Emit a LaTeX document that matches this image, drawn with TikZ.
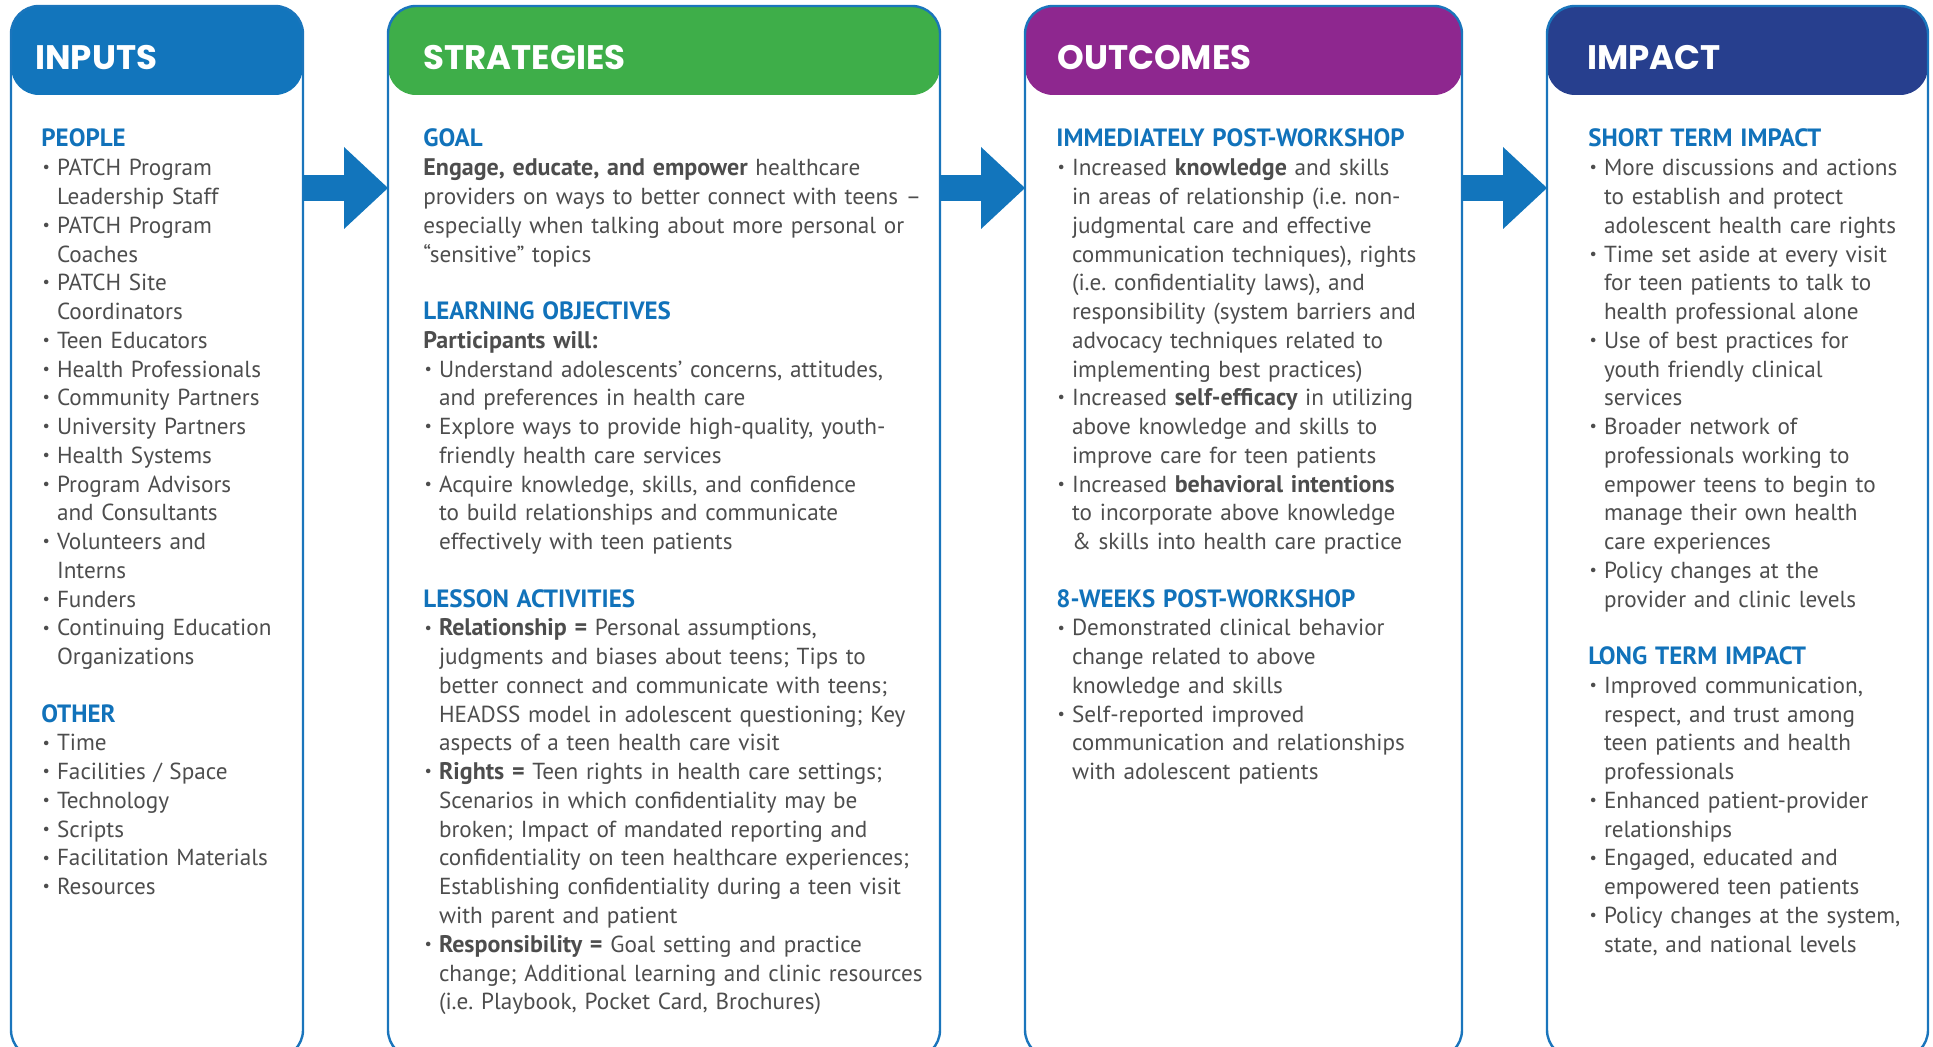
\documentclass[tikz,border=0pt]{standalone}
\usepackage{fontspec}
\setmainfont{PT Sans}
\newfontfamily\titlefont{Poppins}
\usepackage{graphicx}
\usetikzlibrary{arrows.meta}

\definecolor{inblue}{HTML}{1275BC}
\definecolor{stgreen}{HTML}{3EAE49}
\definecolor{outpurple}{HTML}{8E278F}
\definecolor{impnavy}{HTML}{273F8E}
\definecolor{headblue}{HTML}{1172BA}
\definecolor{bodygrey}{HTML}{4D4D4D}
\definecolor{lineblue}{HTML}{1A75BC}

\newlength{\bulletwd}
\setlength{\bulletwd}{7.8pt}
\newcommand{\colhead}[1]{{\color{headblue}\fontsize{12.5}{14.38}\selectfont\bfseries #1}}
\newcommand{\boldtxt}[1]{{\fontsize{12}{14.38}\selectfont\bfseries #1}}
\newcommand{\bitem}{\par\hangindent=\bulletwd\hangafter=1\noindent\makebox[\bulletwd][l]{\hspace{0.6pt}\raisebox{0.25ex}{\scalebox{0.7}{\textbullet}}}}
\newcommand{\colgap}{\par\vspace{\baselineskip}}

\tikzset{
  coltext/.style={anchor=base west, inner sep=0pt, text width=#1, align=left, text=bodygrey,
    font=\fontsize{11.6}{14.38}\selectfont\frenchspacing},
  coltitle/.style={anchor=base west, inner sep=0pt, text=white,
    font=\titlefont\bfseries\fontsize{17}{17}\selectfont},
  colframe/.style={draw=lineblue, line width=1.2pt, rounded corners=14pt},
  flowarrow/.style={line width=13pt, draw=inblue, -{Triangle[width=41pt,length=22pt,line width=0pt]}}
}

\begin{document}
\begin{tikzpicture}[x=0.5pt, y=-0.5pt]
  \clip (0,0) rectangle (1933,1047);

  % columns: header band, frame and title
  \foreach \n/\l/\r/\c/\t/\tx in {inputs/11/303/inblue/INPUTS/35,
      strategies/388/940/stgreen/STRATEGIES/423,
      outcomes/1025/1462/outpurple/OUTCOMES/1057,
      impact/1547/1928/impnavy/IMPACT/1587} {
    \fill[\c, rounded corners=14pt] (\l,6) rectangle (\r,95);
    \draw[colframe] (\l,6) rectangle (\r,1058);
    \node[coltitle] (title-\n) at (\tx,70) {\t};
    \coordinate (\n-w) at (\l,188);
    \coordinate (\n-e) at (\r,188);
  }

  % arrows between columns
  \draw[flowarrow] (inputs-e) -- (strategies-w);
  \draw[flowarrow] (strategies-e) -- (outcomes-w);
  \draw[flowarrow] (outcomes-e) -- (impact-w);

  \node[coltext=138pt] (inputs-text) at (41,147) {%
    \colhead{PEOPLE}
    \bitem PATCH Program\newline Leadership Staff
    \bitem PATCH Program\newline Coaches
    \bitem PATCH Site\newline Coordinators
    \bitem Teen Educators
    \bitem Health Professionals
    \bitem Community Partners
    \bitem University Partners
    \bitem Health Systems
    \bitem Program Advisors\newline and Consultants
    \bitem Volunteers and\newline Interns
    \bitem Funders
    \bitem Continuing Education\newline Organizations
    \colgap
    \colhead{OTHER}
    \bitem Time
    \bitem Facilities / Space
    \bitem Technology
    \bitem Scripts
    \bitem Facilitation Materials
    \bitem Resources\par};

  \node[coltext=262pt] (strategies-text) at (423,147) {%
    \colhead{GOAL}\par
    \boldtxt{Engage, educate, and empower} healthcare\newline
    providers on ways to better connect with teens –\newline
    especially when talking about more personal or\newline
    “sensitive” topics
    \colgap
    \colhead{LEARNING OBJECTIVES}\par
    \boldtxt{Participants will:}
    \bitem Understand adolescents’ concerns, attitudes,\newline and preferences in health care
    \bitem Explore ways to provide high-quality, youth-\newline friendly health care services
    \bitem Acquire knowledge, skills, and confidence\newline to build relationships and communicate\newline effectively with teen patients
    \colgap
    \colhead{LESSON ACTIVITIES}
    \bitem \boldtxt{Relationship =} Personal assumptions,\newline
      judgments and biases about teens; Tips to\newline
      better connect and communicate with teens;\newline
      HEADSS model in adolescent questioning; Key\newline
      aspects of a teen health care visit
    \bitem \boldtxt{Rights =} Teen rights in health care settings;\newline
      Scenarios in which confidentiality may be\newline
      broken; Impact of mandated reporting and\newline
      confidentiality on teen healthcare experiences;\newline
      Establishing confidentiality during a teen visit\newline
      with parent and patient
    \bitem \boldtxt{Responsibility =} Goal setting and practice\newline
      change; Additional learning and clinic resources\newline
      (i.e. Playbook, Pocket Card, Brochures)\par};

  \node[coltext=200pt] (outcomes-text) at (1056,147) {%
    \colhead{IMMEDIATELY POST-WORKSHOP}
    \bitem Increased \boldtxt{knowledge} and skills\newline
      in areas of relationship (i.e. non-\newline
      judgmental care and effective\newline
      communication techniques), rights\newline
      (i.e. confidentiality laws), and\newline
      responsibility (system barriers and\newline
      advocacy techniques related to\newline
      implementing best practices)
    \bitem Increased \boldtxt{self-efficacy} in utilizing\newline
      above knowledge and skills to\newline
      improve care for teen patients
    \bitem Increased \boldtxt{behavioral intentions}\newline
      to incorporate above knowledge\newline
      \& skills into health care practice
    \colgap
    \colhead{8-WEEKS POST-WORKSHOP}
    \bitem Demonstrated clinical behavior\newline change related to above\newline knowledge and skills
    \bitem Self-reported improved\newline communication and relationships\newline with adolescent patients\par};

  \node[coltext=165pt] (impact-text) at (1588,147) {%
    \colhead{SHORT TERM IMPACT}
    \bitem More discussions and actions\newline to establish and protect\newline adolescent health care rights
    \bitem Time set aside at every visit\newline for teen patients to talk to\newline health professional alone
    \bitem Use of best practices for\newline youth friendly clinical\newline services
    \bitem Broader network of\newline professionals working to\newline empower teens to begin to\newline manage their own health\newline care experiences
    \bitem Policy changes at the\newline provider and clinic levels
    \colgap
    \colhead{LONG TERM IMPACT}
    \bitem Improved communication,\newline respect, and trust among\newline teen patients and health\newline professionals
    \bitem Enhanced patient-provider\newline relationships
    \bitem Engaged, educated and\newline empowered teen patients
    \bitem Policy changes at the system,\newline state, and national levels\par};
\end{tikzpicture}
\end{document}
